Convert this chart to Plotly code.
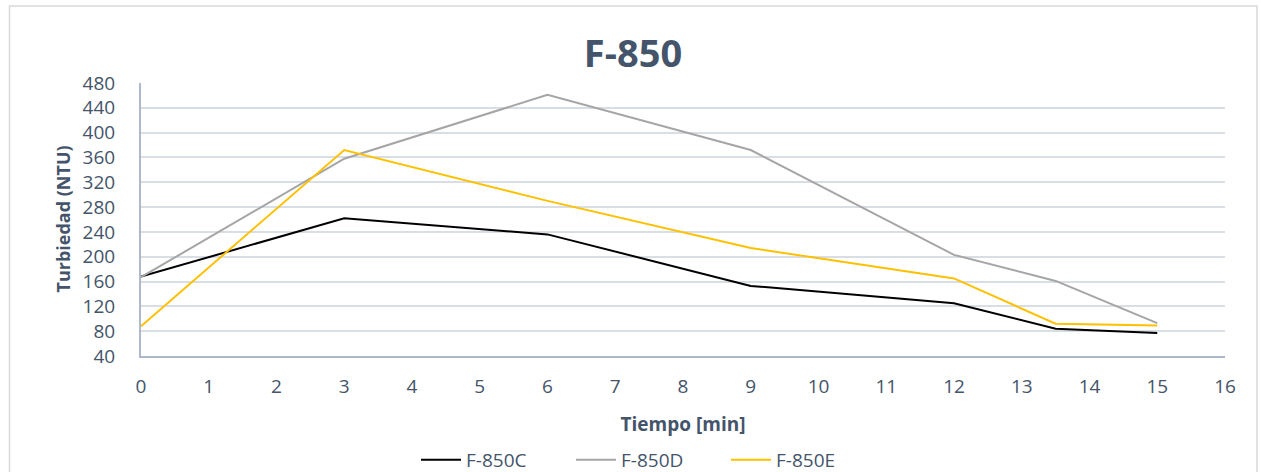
import plotly.graph_objects as go

tiempo = [0, 3, 6, 9, 12, 13.5, 15]
f850c = [168, 262, 236, 153, 125, 84, 77]
f850d = [167, 358, 461, 372, 203, 161, 93]
f850e = [88, 372, 290, 214, 165, 92, 89]
series_names = ["F-850C", "F-850D", "F-850E"]
colors = ["#000000", "#A5A5A5", "#FFC000"]

FONT = "Open Sans"
TXT = "#44546A"

W, H = 1261, 472
L, R, T, B = 141, 36, 83, 116
PW, PH = W - L - R, H - T - B

fig = go.Figure()
for name, vals, col in zip(series_names, [f850c, f850d, f850e], colors):
    fig.add_trace(go.Scatter(x=tiempo, y=vals, mode="lines", name=name,
                             line=dict(color=col, width=2)))

fig.update_layout(
    width=W, height=H,
    paper_bgcolor="white", plot_bgcolor="white",
    margin=dict(l=L, r=R, t=T, b=B, autoexpand=False),
    title=dict(text="<b>F-850</b>", x=633 / W, xanchor="center", xref="container",
               y=1 - 54 / H, yanchor="middle",
               font=dict(family=FONT, size=38, color=TXT)),
    font=dict(family=FONT, color=TXT),
    showlegend=True,
    legend=dict(orientation="h", xref="container", x=416 / W, xanchor="left",
                y=-(460 - (T + PH)) / PH, yanchor="middle",
                font=dict(size=19, color=TXT), entrywidth=100, entrywidthmode="pixels",
                itemwidth=40, tracegroupgap=0),
    shapes=[dict(type="rect", xref="paper", yref="paper",
                 x0=(9.5 - L) / PW, x1=(1257 - L) / PW,
                 y0=-(480 - (T + PH)) / PH, y1=((T + PH) - 6) / PH,
                 line=dict(color="#D9D9D9", width=1.5))],
    annotations=[dict(text="<b>Turbiedad (NTU)</b>", textangle=-90, showarrow=False,
                      xref="paper", yref="paper", x=(62 - L) / PW, y=0.5,
                      xanchor="center", yanchor="middle",
                      font=dict(family=FONT, size=18, color=TXT))],
)
fig.update_xaxes(range=[0, 16], dtick=1, tick0=0, showgrid=False, zeroline=False,
                 showline=True, linecolor="#ADB9CA", linewidth=2,
                 ticks="", ticklabelstandoff=12, tickfont=dict(size=19, color=TXT),
                 title=dict(text="<b>Tiempo [min]</b>", font=dict(size=19, color=TXT), standoff=20))
fig.update_yaxes(range=[40, 480], dtick=40, tick0=40, showgrid=True, gridcolor="#D9DEE5", gridwidth=1.5,
                 zeroline=False, showline=True, linecolor="#ADB9CA", linewidth=2,
                 ticks="", ticklabelstandoff=20, tickfont=dict(size=19, color=TXT))

fig.write_html("out.html")
